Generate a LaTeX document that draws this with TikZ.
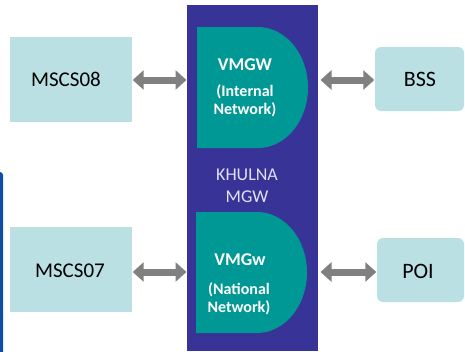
\documentclass[tikz,border=0pt]{standalone}
\usepackage{fontspec}
\setmainfont{Carlito}
\usetikzlibrary{arrows.meta}
\definecolor{mgwblue}{RGB}{56,51,150}
\definecolor{vteal}{RGB}{0,152,148}
\definecolor{lbox}{RGB}{186,224,228}
\definecolor{agray}{RGB}{128,128,128}
\definecolor{stripblue}{RGB}{14,78,164}
\definecolor{khtext}{RGB}{225,225,245}
\tikzset{
  sysbox/.style={fill=lbox, draw=none, inner sep=0pt},
  systxt/.style={inner sep=0pt, font=\fontsize{21}{24}\selectfont},
  vtxt/.style={text=white, font=\bfseries\fontsize{18}{21}\selectfont, inner sep=0pt},
  vsub/.style={text=white, font=\bfseries\fontsize{16}{18}\selectfont, align=center, inner sep=0pt},
  blockarrow/.style={draw=agray, line width=7pt, {Triangle[width=19pt,length=11pt]}-{Triangle[width=19pt,length=11pt]}, shorten <=0.5pt, shorten >=0.5pt},
}
\begin{document}
\begin{tikzpicture}[x=1pt,y=-1pt]
\useasboundingbox (0,0) rectangle (465,351);
% left edge strip
\begin{scope}
\clip (0,0) rectangle (465,351);
\fill[stripblue, rounded corners=3pt] (-6,172) rectangle (3,360);
\end{scope}
% KHULNA MGW frame
\fill[mgwblue] (187,5) rectangle (318,351);
\node[text=khtext, font=\fontsize{18}{22}\selectfont, align=center, inner sep=0pt] (mgw) at (247,186) {KHULNA\\MGW};
% D shapes
\fill[vteal] (197,27) -- (258,27) arc[start angle=-90, end angle=90, x radius=50, y radius=60.5] -- (197,148) -- cycle;
\fill[vteal] (196,212) -- (257,212) arc[start angle=-90, end angle=90, x radius=50, y radius=60.5] -- (196,333) -- cycle;
\node[vtxt] (t1) at (245,65) {VMGW};
\node[vsub] (t2) at (245,101) {(Internal\\Network)};
\node[vtxt] (t3) at (240,260) {VMGw};
\node[vsub] (t4) at (239,299) {(National\\Network)};
% side boxes
\node[sysbox, minimum width=122pt, minimum height=85pt] (m8) at (71,79.5) {};
\node[systxt] (m8t) at (66,79) {MSCS08};
\node[sysbox, minimum width=122pt, minimum height=85pt] (m7) at (71,269.5) {};
\node[systxt] (m7t) at (70,271) {MSCS07};
\node[sysbox, rounded corners=6pt, minimum width=89pt, minimum height=64pt] (bss) at (419.5,79) {};
\node[systxt, font=\fontsize{22}{24}\selectfont] (bsst) at (420,79) {BSS};
\node[sysbox, rounded corners=6pt, minimum width=87pt, minimum height=64pt] (poi) at (420.5,270) {};
\node[systxt, font=\fontsize{22}{24}\selectfont] (poit) at (418,271) {POI};
% arrows
\coordinate (a1) at (187,80);
\coordinate (a2) at (187,272);
\coordinate (a3) at (320,80);
\coordinate (a4) at (320,272);
\draw[blockarrow] (m8.east |- a1) -- (a1);
\draw[blockarrow] (m7.east |- a2) -- (a2);
\draw[blockarrow] (a3) -- (bss.west |- a3);
\draw[blockarrow] (a4) -- (poi.west |- a4);
\end{tikzpicture}
\end{document}
